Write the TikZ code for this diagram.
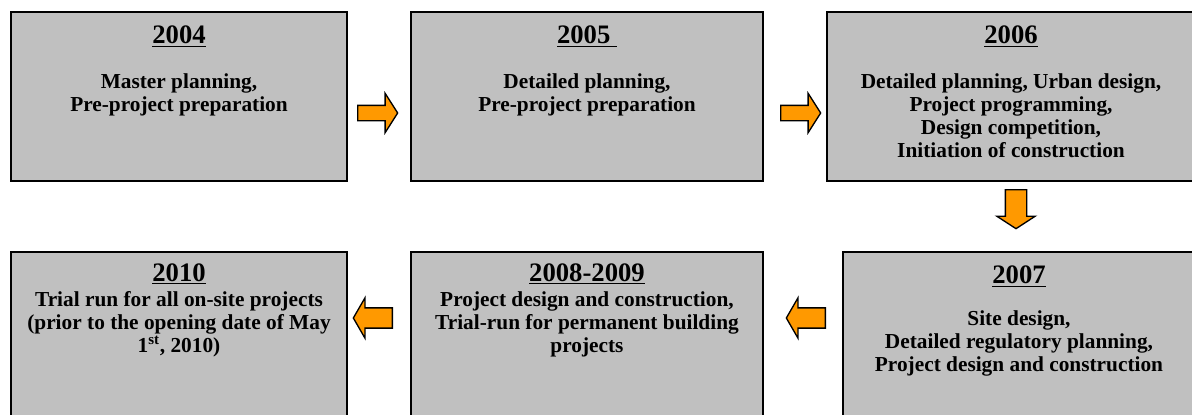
\documentclass[tikz,border=0pt]{standalone}
\usepackage{fontspec}
\setmainfont{Liberation Serif}
\usetikzlibrary{positioning,calc,shapes.arrows}

\definecolor{boxgray}{RGB}{192,192,192}
\definecolor{arroworange}{RGB}{255,153,0}

\tikzset{
  yearbox/.style={draw=black, line width=1.5pt, fill=boxgray, anchor=north west, inner sep=0pt},
  yeartitle/.style={anchor=north, inner sep=0pt, font=\fontsize{20}{22}\selectfont\bfseries},
  yeartext/.style={anchor=north, inner sep=0pt, align=center, font=\fontsize{16}{17.25}\selectfont\bfseries},
  nextarrow/.style={single arrow, draw=black, fill=arroworange, line width=1pt, inner xsep=0pt},
  thinarrow/.style={nextarrow, inner ysep=5.25pt, single arrow head extend=9pt, minimum height=30pt, single arrow tip angle=115},
  thickarrow/.style={nextarrow, inner ysep=7.1pt, single arrow head extend=7.5pt, minimum height=29.25pt, single arrow tip angle=120},
}

\begin{document}
\begin{tikzpicture}[x=0.75pt,y=-0.75pt]
\useasboundingbox (0,0) rectangle (1192,414);
\clip (0,0) rectangle (1192,414);

%Upper row
\node [yearbox, minimum width=252pt, minimum height=126.75pt] (b2004) at (10,11) {};
\node [yearbox, minimum width=264pt, minimum height=126.75pt] (b2005) at (410,11) {};
\node [yearbox, minimum width=276pt, minimum height=126.75pt] (b2006) at (826,11) {};

%Lower row, runs off the bottom edge
\node [yearbox, minimum width=252pt, minimum height=142pt] (b2010) at (10,251) {};
\node [yearbox, minimum width=264pt, minimum height=142pt] (b2008) at (410,251) {};
\node [yearbox, minimum width=264pt, minimum height=142pt] (b2007) at (842,251) {};

% Text Node
\node [yeartitle, below=11pt of b2004.north] (t2004) {\underline{2004}};
\node [yeartext, below=20pt of t2004] (x2004) {Master planning,\\Pre-project preparation};
% Text Node
\node [yeartitle, below=11pt of b2005.north] (t2005) {\underline{2005\ }};
\node [yeartext, below=20pt of t2005] (x2005) {Detailed planning,\\Pre-project preparation};
% Text Node
\node [yeartitle, below=11pt of b2006.north] (t2006) {\underline{2006}};
\node [yeartext, below=20pt of t2006] (x2006) {Detailed planning, Urban design,\\Project programming,\\Design competition,\\Initiation of construction};
% Text Node
\node [yeartitle, below=9pt of b2010.north] (t2010) {\underline{2010}};
\node [yeartext, below=5.5pt of t2010] (x2010) {Trial run for all on-site projects\\(prior to the opening date of May\\1\textsuperscript{st}, 2010)};
% Text Node
\node [yeartitle, below=9pt of b2008.north] (t2008) {\underline{2008-2009}};
\node [yeartext, below=5.5pt of t2008] (x2008) {Project design and construction,\\Trial-run for permanent building\\projects};
% Text Node
\node [yeartitle, below=11pt of b2007.north] (t2007) {\underline{2007}};
\node [yeartext, below=18pt of t2007] (x2007) {Site design,\\Detailed regulatory planning,\\Project design and construction};

%Arrows between the years
\node [thinarrow, anchor=tail] (a1) at ($(b2004.east)+(9,16.5)$) {};
\node [thinarrow, anchor=tail] (a2) at ($(b2005.east)+(16,16.5)$) {};
\node [thickarrow, rotate=-90, anchor=tail, inner ysep=7.5pt, single arrow head extend=6.4pt, single arrow tip angle=114] (a3) at ($(b2006.south)+(5,7)$) {};
\node [thickarrow, rotate=180, anchor=tail] (a4) at ($(b2007.north west)+(-16,67)$) {};
\node [thickarrow, rotate=180, anchor=tail] (a5) at ($(b2008.north west)+(-17,67)$) {};
\end{tikzpicture}
\end{document}
